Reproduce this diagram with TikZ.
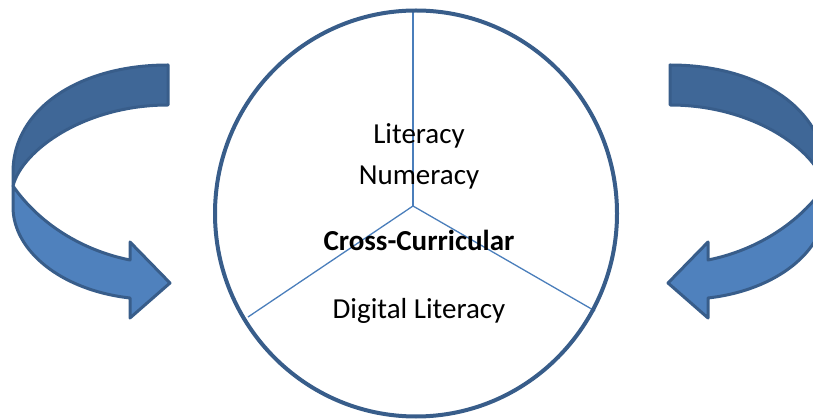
\documentclass[tikz,border=0pt]{standalone}
\usepackage{fontspec}
\setmainfont{Carlito}
\usetikzlibrary{shapes.geometric}
\definecolor{edgeblue}{HTML}{385D8A}
\definecolor{backband}{HTML}{3F6797}
\definecolor{frontband}{HTML}{4F81BD}
\definecolor{spokeblue}{HTML}{4A7EBB}
\tikzset{
  bandback/.style={fill=backband, draw=edgeblue, line width=3pt, line join=round},
  bandfront/.style={fill=frontband, draw=edgeblue, line width=3pt, line join=round},
  ringline/.style={draw=edgeblue, line width=4pt, ellipse, inner sep=0pt},
  spokeline/.style={draw=spokeblue, line width=1.3pt},
  wordlabel/.style={font=\fontsize{29}{35}\selectfont, anchor=base, inner sep=0pt, text=black}
}
\begin{document}
\begin{tikzpicture}[x=1pt,y=-1pt]
\useasboundingbox (0,0) rectangle (813,419);
\clip (0,0) rectangle (813,419);

% left curved arrow
\begin{scope}
  \path[bandback] (168,65) .. controls (78,65) and (13,110) .. (13,172)
     -- (13,186) .. controls (22,150) and (85,105) .. (168,105) -- cycle;
  \path[bandfront] (13,186) .. controls (38,222) and (80,250) .. (130,260)
     -- (130,242) -- (170,283) -- (130,318) -- (130,298)
     .. controls (60,290) and (13,250) .. (13,207) -- cycle;
\end{scope}

% right curved arrow (mirror)
\begin{scope}[shift={(838,0)}, xscale=-1]
  \path[bandback] (168,65) .. controls (78,65) and (13,110) .. (13,172)
     -- (13,186) .. controls (22,150) and (85,105) .. (168,105) -- cycle;
  \path[bandfront] (13,186) .. controls (38,222) and (80,250) .. (130,260)
     -- (130,242) -- (170,283) -- (130,318) -- (130,298)
     .. controls (60,290) and (13,250) .. (13,207) -- cycle;
\end{scope}

% spokes
\coordinate (hub) at (413,206);
\coordinate (sTop) at (413,12);
\coordinate (sLeft) at (248,317);
\coordinate (sRight) at (595,311);
\draw[spokeline] (hub) -- (sTop);
\draw[spokeline] (hub) -- (sLeft);
\draw[spokeline] (hub) -- (sRight);

% ring
\node[ringline, minimum width=402pt, minimum height=406pt] (ring) at (416,213.5) {};

% labels
\node[wordlabel] (lit) at (419,143.5) {Literacy};
\node[wordlabel] (num) at (419,184.5) {Numeracy};
\node[wordlabel, font=\fontsize{29}{35}\selectfont\bfseries] (cross) at (419,251) {Cross-Curricular};
\node[wordlabel] (digi) at (419,319) {Digital Literacy};
\end{tikzpicture}
\end{document}
